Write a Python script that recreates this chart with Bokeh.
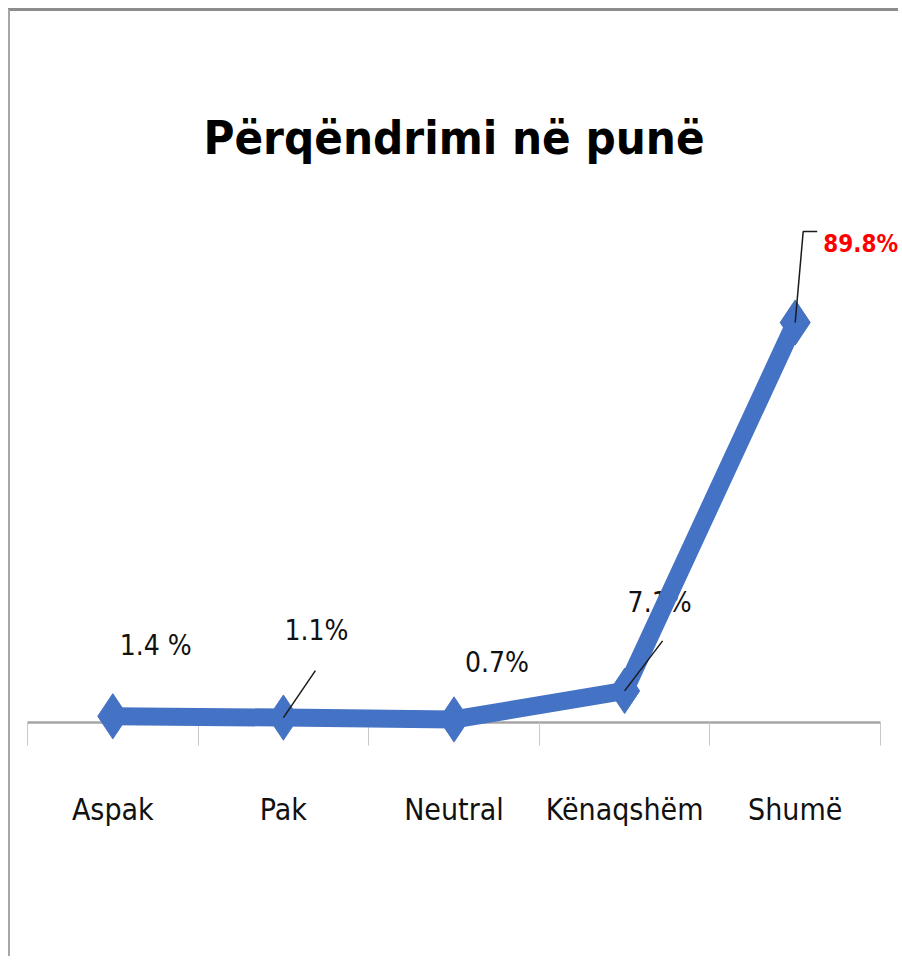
from bokeh.plotting import figure
from bokeh.models import Range1d, FixedTicker, ColumnDataSource
from bokeh.core.properties import value
from bokeh.embed import file_html
from bokeh.resources import INLINE

# ---- data ----
categories = ["Aspak", "Pak", "Neutral", "Kënaqshëm", "Shumë"]
percent = [1.4, 1.1, 0.7, 7.1, 89.8]
label_texts = ["1.4 %", "1.1%", "0.7%", "7.1%", "89.8%"]
title_text = "Përqëndrimi në punë"

FONT = "DejaVu Sans Condensed"
BLUE = "#4472C4"

xs = list(range(1, len(categories) + 1))

W, H = 890, 948
Y_END = 117.2
p = figure(width=W, height=H, output_backend="svg", toolbar_location=None,
           x_range=Range1d(0.5, len(categories) + 0.5), y_range=Range1d(0, Y_END),
           min_border_left=17, min_border_right=20, min_border_top=189, min_border_bottom=237,
           title=title_text)
p.styles = {"margin-left": "8px", "margin-top": "8px",
            "border-left": "2px solid #a6a6a6", "border-top": "3px solid #8c8c8c"}
p.outline_line_color = None
p.background_fill_color = "white"
p.border_fill_color = "white"
p.grid.visible = False
p.yaxis.visible = False

p.title.text_font = FONT
p.title.text_font_size = "47px"
p.title.text_font_style = "bold"
p.title.text_color = "black"
p.title.align = "center"
p.title.standoff = 72

ax = p.xaxis[0]
ax.ticker = FixedTicker(ticks=xs, minor_ticks=[x - 0.5 for x in xs] + [xs[-1] + 0.5])
ax.major_label_overrides = {x: c for x, c in zip(xs, categories)}
ax.major_tick_out = 0
ax.major_tick_in = 0
ax.minor_tick_out = 23
ax.minor_tick_in = 0
ax.minor_tick_line_color = "#c8c8c8"
ax.minor_tick_line_width = 1
ax.axis_line_color = "#a6a6a6"
ax.axis_line_width = 2.5
ax.major_label_standoff = 46
ax.major_label_text_font = FONT
ax.major_label_text_font_size = "30px"
ax.major_label_text_color = "#111111"

# data labels (offsets in screen px; negative = up)
dx = [43, 33, 43, 35, 28]
dy = [-71, -87, -57, -88, -79]
n = len(xs)
lsrc = ColumnDataSource(dict(x=xs[:-1], y=percent[:-1], lab=label_texts[:-1],
                             dx=dx[:-1], dy=dy[:-1]))
t1 = p.text(x="x", y="y", text="lab", x_offset="dx", y_offset="dy", source=lsrc,
            text_font=value(FONT), text_font_size="28px", text_color="#111111",
            text_align="center", text_baseline="middle")
t1.level = "overlay"
t2 = p.text(x=[xs[-1]], y=[percent[-1]], text=[label_texts[-1]], x_offset=dx[-1], y_offset=dy[-1],
            text_font=value(FONT), text_font_size="24px", text_font_style="bold",
            text_color="#ff0000", text_align="left", text_baseline="middle")
t2.level = "overlay"

src = ColumnDataSource(dict(x=xs, y=percent))

# soft shadow under markers
sh = p.scatter(x="x", y="y", source=src, marker="diamond", size=47,
               fill_color="#000000", fill_alpha=0.12, line_color=None)
sh.level = "overlay"

ln = p.line(x="x", y="y", source=src, line_color=BLUE, line_width=18, line_join="miter")
ln.level = "overlay"
mk = p.scatter(x="x", y="y", source=src, marker="diamond", size=45,
               fill_color=BLUE, line_color=BLUE, line_width=1)
mk.level = "overlay"

# leader lines (screen-px offsets converted through the plot scales)
px_x = (W - 17 - 20) / n
px_y = (H - 189 - 237) / Y_END
lead = {1: [(32, 47)], 3: [(38, 50)], 4: [(8, 91), (22, 91)]}
for i, segs in lead.items():
    lx = [xs[i]] + [xs[i] + a / px_x for a, b in segs]
    ly = [percent[i]] + [percent[i] + b / px_y for a, b in segs]
    r = p.line(lx, ly, line_color="#1a1a1a", line_width=1.5)
    r.level = "overlay"

open("out.html", "w").write(file_html(p, INLINE))
